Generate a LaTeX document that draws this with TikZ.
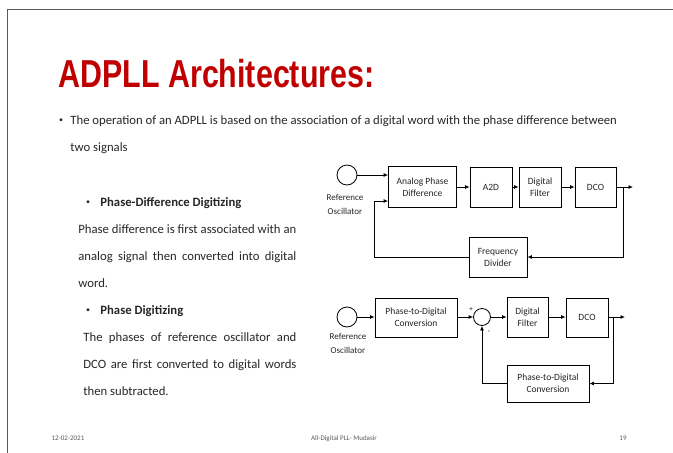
\documentclass[tikz,border=0pt]{standalone}
\usepackage{fontspec}
\setmainfont{Carlito}
\newfontfamily\titlefont[FakeStretch=0.78]{Liberation Sans}
\usetikzlibrary{arrows,arrows.meta,shadows}
\definecolor{titlered}{HTML}{C00000}
\definecolor{framegray}{HTML}{595959}
\definecolor{bodytext}{HTML}{262626}

\begin{document}
\begin{tikzpicture}[x=1pt,y=-1pt,>={Latex[length=4.5pt,width=4pt]},line width=0.8pt,
  blk/.style={draw,fill=white,align=center,inner sep=1pt,text=bodytext,
    font=\fontsize{9.5}{12}\selectfont,
    drop shadow={shadow xshift=0.8pt,shadow yshift=-0.8pt,opacity=0.5}},
  refosc/.style={draw,circle,minimum size=20pt,inner sep=0pt},
  sumnode/.style={draw,circle,minimum size=17pt,inner sep=0pt},
  lbl/.style={align=center,inner sep=0pt,text=bodytext,font=\fontsize{9}{14}\selectfont},
  sign/.style={inner sep=0pt,font=\fontsize{7}{7}\selectfont},
  body/.style={anchor=base west,inner sep=0pt,text=bodytext,font=\fontsize{12.7}{12.7}\selectfont},
  dot/.style={anchor=base,inner sep=0pt,text=bodytext,font=\fontsize{8}{8}\selectfont},
  foot/.style={anchor=base,inner sep=0pt,text=black!65,font=\fontsize{7}{7}\selectfont}]
  \newcommand*{\ColWidth}{218pt}
  \newcommand*{\ColWidthB}{213pt}
  \newcommand*{\Bul}{\raisebox{1.5pt}{\textbullet}}
  \useasboundingbox (0,0) rectangle (673,453);
  % slide frame
  \draw[framegray,line width=1.5pt] (7.5,453) -- (7.5,9.5) -- (673,9.5);
  % title and text
  \node[anchor=base west,inner sep=0pt,text=titlered,font=\titlefont\bfseries\fontsize{39}{39}\selectfont] (title) at (58,87) {ADPLL Architectures:};
  \node[dot] (dotA) at (61,124) {\Bul};
  \node[body] (introA) at (70,124) {The operation of an ADPLL is based on the association of a digital word with the phase difference between};
  \node[body] (introB) at (70,151) {two signals};
  \node[dot] (dotB) at (88,206) {\Bul};
  \node[body,font=\fontsize{12.7}{12.7}\selectfont\bfseries] (headA) at (100,206) {Phase-Difference Digitizing};
  \node[body] (parA1) at (78,233) {\makebox[\ColWidth][s]{Phase difference is first associated with an}};
  \node[body] (parA2) at (78,260) {\makebox[\ColWidth][s]{analog signal then converted into digital}};
  \node[body] (parA3) at (78,287) {word.};
  \node[dot] (dotC) at (88,314) {\Bul};
  \node[body,font=\fontsize{12.7}{12.7}\selectfont\bfseries] (headB) at (100,314) {Phase Digitizing};
  \node[body] (parB1) at (83,341) {\makebox[\ColWidthB][s]{The phases of reference oscillator and}};
  \node[body] (parB2) at (83,368) {\makebox[\ColWidthB][s]{DCO are first converted to digital words}};
  \node[body] (parB3) at (83,395) {then subtracted.};
  % footer
  \node[foot] (date) at (68,440) {12-02-2021};
  \node[foot] (author) at (344,440) {All-Digital PLL- Mudasir};
  \node[foot] (page) at (623,440) {19};

  % phase-difference digitizing loop
  \node[refosc] (refA) at (347,175) {};
  \node[lbl] (refAlbl) at (345,204) {Reference\\Oscillator};
  \node[blk,minimum width=68pt,minimum height=41pt] (apd) at (422.5,187) {Analog Phase\\Difference};
  \node[blk,minimum width=42pt,minimum height=40pt] (atod) at (491,187) {A2D};
  \node[blk,minimum width=42pt,minimum height=40pt] (filtA) at (540,187) {Digital\\Filter};
  \node[blk,minimum width=41pt,minimum height=40pt] (dcoA) at (595.5,187) {DCO};
  \node[blk,minimum width=58pt,minimum height=40pt] (fdiv) at (498,257) {Frequency\\Divider};
  \coordinate (tapA) at (623,187);
  \coordinate (outA) at (633,187);
  \coordinate (fbA) at (374,201);
  \draw[->] (refA.east) -- (refA.east -| apd.west);
  \draw[->] (apd) -- (atod);
  \draw[->] (atod) -- (filtA);
  \draw[->] (filtA) -- (dcoA);
  \draw[->] (dcoA) -- (outA);
  \draw[->] (tapA) |- (fdiv.east);
  \draw[->] (fdiv.west) -| (fbA) -- (fbA -| apd.west);

  % phase digitizing loop
  \node[refosc] (refB) at (347,317) {};
  \node[lbl] (refBlbl) at (348,343) {Reference\\Oscillator};
  \node[blk,minimum width=82pt,minimum height=39pt] (ptodA) at (416,317.5) {Phase-to-Digital\\Conversion};
  \node[sumnode] (sum) at (482,317) {};
  \node[sign] (plus) at (471,310) {+};
  \node[sign] (minus) at (489,332) {-};
  \node[blk,minimum width=41pt,minimum height=40pt] (filtB) at (527.5,317) {Digital\\Filter};
  \node[blk,minimum width=42pt,minimum height=39pt] (dcoB) at (587,317.5) {DCO};
  \node[blk,minimum width=82pt,minimum height=37pt] (ptodB) at (548,383.5) {Phase-to-Digital\\Conversion};
  \coordinate (tapB) at (613,317);
  \coordinate (outB) at (625,317);
  \draw[->] (refB) -- (refB -| ptodA.west);
  \draw[->] (ptodA.east |- sum) -- (sum);
  \draw[->] (sum) -- (sum -| filtB.west);
  \draw[->] (filtB.east) -- (filtB.east -| dcoB.west);
  \draw[->] (dcoB.east |- outB) -- (outB);
  \draw[->] (tapB) |- (ptodB.east);
  \draw[->] (ptodB.west) -| (sum.south);
\end{tikzpicture}
\end{document}
